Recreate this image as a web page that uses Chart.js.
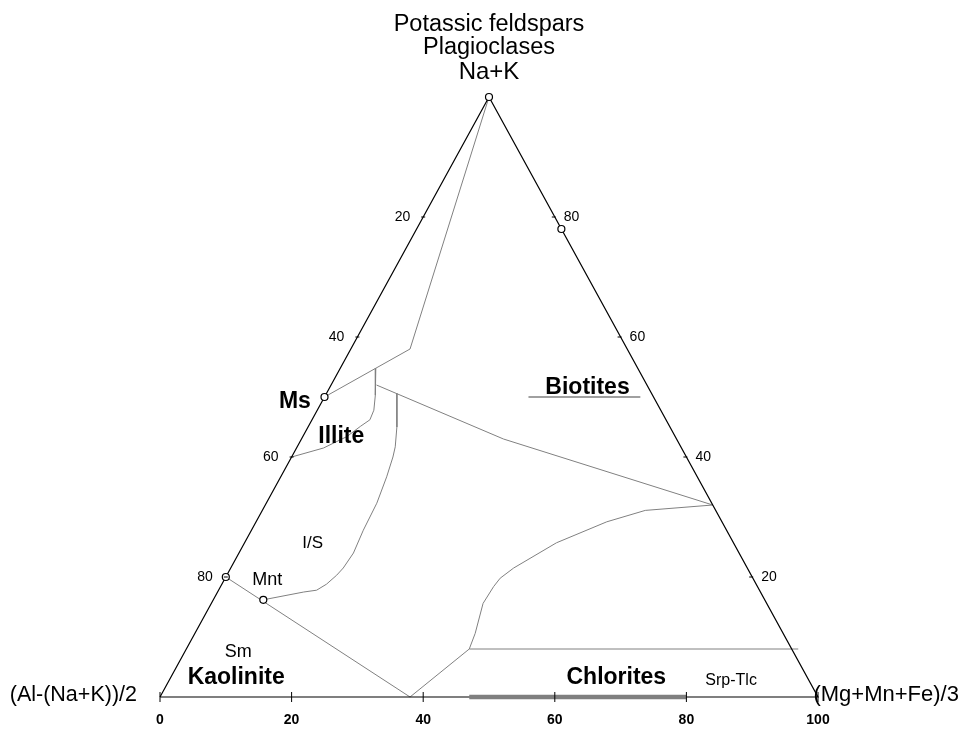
<!DOCTYPE html>
<html>
<head>
<meta charset="utf-8">
<script src="https://cdn.jsdelivr.net/npm/chart.js@4/dist/chart.umd.min.js"></script>
<style>
  html, body { margin: 0; padding: 0; background: #fff; }
  canvas { display: block; }
</style>
</head>
<body>
<canvas id="ternary" width="967" height="729"></canvas>
<script>
// Points are [R, T]: R = (Mg+Mn+Fe)/3 %, T = Na+K %, (Al-(Na+K))/2 = 100 - R - T
const triangle = [[0, 0], [100, 0], [0, 100], [0, 0]];
const apexToMs = [[0, 100], [9, 58], [0, 50]];
const illiteLine = [[5.4, 54.8], [6.7, 52], [7.6, 50.3], [8.6, 47.8], [8.8, 46.2], [7.9, 45.1], [6.7, 43.4], [4.1, 41.5], [0, 40]];
const biotiteLine = [[6.9, 52], [30.7, 43], [68, 32]];
const isLine = [[10.7, 50.6], [13.5, 45], [14.9, 41.7], [15.4, 40], [16.1, 36.7], [16.8, 32.3], [17.0, 27.8], [17.4, 24], [17.1, 21.5], [16.7, 20.3], [15.9, 18.8], [14.9, 17.8], [13.1, 17.5], [7.6, 16.2]];
const kaoliniteLine = [[0, 20], [38, 0]];
const chloriteBase = [[38, 0], [43, 8], [93, 8]];
const chloriteCurve = [[43, 8], [42.6, 10.6], [41.3, 15.6], [41.5, 18.4], [41.8, 19.8], [43, 21.5], [47.4, 25.7], [53.3, 29.2], [58.2, 31.1], [68, 32]];
const biotitesUnderline = [[31, 50], [48, 50]];
const srpTlcBar = [[47, 0], [80, 0]];
const markers = [[0, 100], [22, 78], [0, 50], [0, 20], [7.6, 16.2]];

const bottomTicks = [0, 20, 40, 60, 80, 100];
const leftTicks = [20, 40, 60, 80];   // (Al-(Na+K))/2 %, along left edge
const rightTicks = [80, 60, 40, 20];  // Na+K %, along right edge

function toXY(p) { return { x: p[0] + p[1] / 2, y: p[1] }; }

function lineSet(points, color, width, order) {
    return {
        data: points.map(toXY),
        showLine: true,
        borderColor: color,
        borderWidth: width,
        pointRadius: 0,
        tension: 0,
        clip: false,
        order: order || 5
    };
}

const FONT = 'Arial, "Liberation Sans", sans-serif';

// text labels in chart data units (x along base, y = height)
const labels = [
    { text: 'Potassic feldspars', x: 50, y: 111, size: 23.5, bold: false, align: 'center' },
    { text: 'Plagioclases', x: 50, y: 107.1, size: 23.5, bold: false, align: 'center' },
    { text: 'Na+K', x: 50, y: 103, size: 24, bold: false, align: 'center' },
    { text: '(Al-(Na+K))/2', x: -3.5, y: -0.6, size: 21.5, bold: false, align: 'right' },
    { text: '(Mg+Mn+Fe)/3', x: 99.3, y: -0.6, size: 22, bold: false, align: 'left' },
    { text: 'Kaolinite', x: 11.58, y: 2.17, size: 23, bold: true, align: 'center' },
    { text: 'Sm', x: 11.9, y: 6.6, size: 18, bold: false, align: 'center' },
    { text: 'Chlorites', x: 69.35, y: 2.17, size: 23, bold: true, align: 'center' },
    { text: 'Srp-Tlc', x: 86.8, y: 2.0, size: 16, bold: false, align: 'center' },
    { text: 'Biotites', x: 64.97, y: 50.5, size: 23, bold: true, align: 'center' },
    { text: 'Ms', x: 20.5, y: 48.2, size: 23, bold: true, align: 'center' },
    { text: 'Illite', x: 27.55, y: 42.28, size: 23, bold: true, align: 'center' },
    { text: 'I/S', x: 23.2, y: 24.8, size: 17, bold: false, align: 'center' },
    { text: 'Mnt', x: 16.3, y: 18.7, size: 18, bold: false, align: 'center' }
];

const axisPlugin = {
    id: 'ternaryAxes',
    afterDatasetsDraw(chart) {
        const ctx = chart.ctx;
        const xs = chart.scales.x, ys = chart.scales.y;
        const px = v => xs.getPixelForValue(v);
        const py = v => ys.getPixelForValue(v);
        ctx.save();
        ctx.strokeStyle = '#000';
        ctx.fillStyle = '#000';
        ctx.lineWidth = 1;

        // bottom ticks
        ctx.font = 'bold 14px ' + FONT;
        ctx.textAlign = 'center';
        ctx.textBaseline = 'alphabetic';
        bottomTicks.forEach(t => {
            const x = px(t), y = py(0);
            ctx.beginPath();
            ctx.moveTo(x, y - 5);
            ctx.lineTo(x, y + 5);
            ctx.stroke();
            ctx.fillText(String(t), x, y + 27);
        });

        ctx.font = '14px ' + FONT;
        ctx.textBaseline = 'middle';
        // left edge: point with R=0, T=100-a
        leftTicks.forEach(a => {
            const p = toXY([0, 100 - a]);
            const x = px(p.x), y = py(p.y);
            ctx.beginPath();
            ctx.moveTo(x - 2, y);
            ctx.lineTo(x + 2, y);
            ctx.stroke();
            ctx.textAlign = 'right';
            ctx.fillText(String(a), x - 13, y);
        });
        // right edge: point with R=100-t, T=t
        rightTicks.forEach(t => {
            const p = toXY([100 - t, t]);
            const x = px(p.x), y = py(p.y);
            ctx.beginPath();
            ctx.moveTo(x - 3, y);
            ctx.lineTo(x + 1, y);
            ctx.stroke();
            ctx.textAlign = 'left';
            ctx.fillText(String(t), x + 9, y);
        });

        ctx.textBaseline = 'alphabetic';
        labels.forEach(l => {
            ctx.font = (l.bold ? 'bold ' : '') + l.size + 'px ' + FONT;
            ctx.textAlign = l.align;
            ctx.fillText(l.text, px(l.x), py(l.y));
        });
        ctx.restore();
    }
};

const grey = '#808080';

new Chart(document.getElementById('ternary'), {
    type: 'scatter',
    data: {
        datasets: [
            lineSet(triangle, '#000000', 1.2, 4),
            lineSet(srpTlcBar, '#7f7f7f', 4.5, 1),
            lineSet(apexToMs, grey, 1),
            lineSet(illiteLine, grey, 1),
            lineSet(biotiteLine, grey, 1),
            lineSet(isLine, grey, 1),
            lineSet(kaoliniteLine, grey, 1),
            lineSet(chloriteBase, grey, 1),
            lineSet(chloriteCurve, grey, 1),
            lineSet(biotitesUnderline, grey, 1.3),
            {
                data: markers.map(toXY),
                showLine: false,
                pointRadius: 3.5,
                pointBackgroundColor: '#ffffff',
                pointBorderColor: '#000000',
                pointBorderWidth: 1.2,
                clip: false,
                order: 0
            }
        ]
    },
    options: {
        responsive: false,
        animation: false,
        devicePixelRatio: 1,
        layout: { padding: { left: 160, right: 149, top: 97, bottom: 32 } },
        plugins: { legend: { display: false }, tooltip: { enabled: false } },
        scales: {
            x: { type: 'linear', min: 0, max: 100, display: false },
            y: { type: 'linear', min: 0, max: 100, display: false }
        }
    },
    plugins: [axisPlugin]
});
</script>
</body>
</html>
